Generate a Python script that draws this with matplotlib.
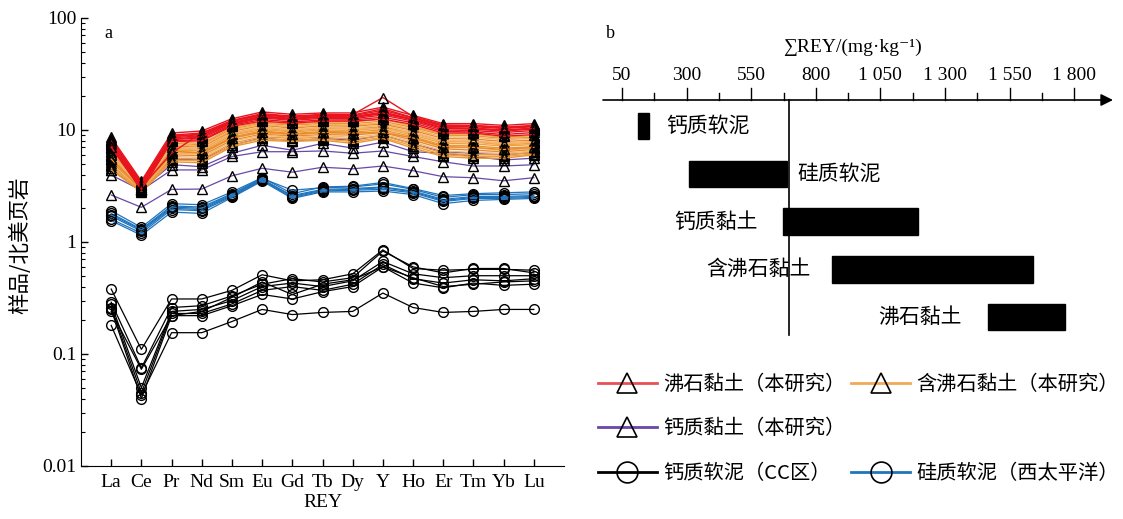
import matplotlib
matplotlib.use("Agg")
import matplotlib.pyplot as plt
from matplotlib.lines import Line2D
import numpy as np

plt.rcParams['font.family'] = ['Liberation Serif', 'Noto Sans CJK SC', 'DejaVu Sans']
CJK = ['Noto Sans CJK SC', 'DejaVu Sans']

# ---------------- data ----------------
elements = ["La", "Ce", "Pr", "Nd", "Sm", "Eu", "Gd", "Tb", "Dy", "Y", "Ho", "Er", "Tm", "Yb", "Lu"]

zeolite_clay = [
    [8.6, 3.5, 9.4, 9.8, 12.6, 14.5, 13.8, 14.2, 14.2, 16.0, 13.5, 11.4, 11.4, 11.0, 11.4],
    [8.3, 3.4, 9.0, 9.4, 12.2, 14.0, 13.3, 13.8, 13.7, 19.5, 13.2, 11.1, 11.0, 10.6, 11.0],
    [8.0, 3.3, 8.7, 9.1, 11.9, 13.6, 13.0, 13.5, 13.4, 15.0, 12.8, 10.8, 10.7, 10.3, 10.7],
    [7.8, 3.2, 8.5, 8.9, 11.6, 13.3, 12.7, 13.2, 13.1, 14.5, 12.5, 10.5, 10.4, 10.0, 10.4],
    [7.5, 3.1, 6.2, 9.5, 11.4, 13.0, 12.5, 13.0, 12.9, 14.0, 12.3, 10.3, 10.2, 9.8, 10.2],
    [7.3, 3.0, 8.2, 8.5, 11.2, 12.8, 12.2, 12.7, 12.6, 13.6, 12.0, 10.0, 9.9, 9.5, 9.9],
    [7.1, 2.9, 8.0, 8.2, 11.0, 12.4, 11.8, 12.3, 12.3, 13.0, 11.6, 9.7, 9.6, 9.1, 9.5],
    [8.1, 3.3, 8.8, 9.2, 12.0, 13.8, 13.1, 13.6, 13.6, 15.5, 12.9, 10.9, 10.9, 10.5, 10.8],
    [7.6, 3.1, 8.3, 8.7, 11.5, 13.2, 12.6, 13.1, 13.0, 14.2, 12.4, 10.4, 10.3, 9.9, 10.3],
    [7.0, 2.95, 7.9, 8.0, 10.8, 12.0, 11.5, 12.0, 12.0, 12.5, 11.2, 9.4, 9.4, 8.8, 9.1],
]

zeolite_bearing_clay = [
    [6.9, 3.3, 7.9, 7.6, 10.5, 11.8, 11.3, 11.8, 11.8, 12.5, 10.8, 9.2, 9.2, 8.6, 8.9],
    [6.7, 3.2, 7.6, 7.4, 10.2, 11.5, 11.0, 11.5, 11.4, 12.0, 10.5, 9.0, 8.9, 8.4, 8.6],
    [6.5, 3.2, 7.4, 7.2, 10.0, 11.3, 10.7, 11.2, 11.1, 11.6, 10.2, 8.7, 8.6, 8.2, 8.4],
    [6.3, 3.1, 7.2, 7.0, 9.7, 11.0, 10.4, 10.9, 10.8, 11.3, 9.9, 8.4, 8.3, 7.9, 8.1],
    [6.1, 3.1, 7.0, 6.9, 9.4, 10.7, 10.1, 10.6, 10.5, 11.0, 9.6, 8.1, 8.0, 7.7, 7.9],
    [5.9, 3.0, 6.8, 6.7, 9.2, 10.4, 9.8, 10.3, 10.2, 10.7, 9.3, 7.9, 7.8, 7.4, 7.6],
    [5.8, 3.0, 6.6, 6.5, 9.0, 10.1, 9.6, 10.0, 9.9, 10.4, 9.0, 7.6, 7.5, 7.2, 7.4],
    [5.6, 3.0, 6.4, 6.3, 8.7, 9.8, 9.3, 9.7, 9.6, 10.0, 8.7, 7.3, 7.2, 6.9, 7.1],
    [5.4, 2.95, 6.2, 6.1, 8.4, 9.5, 9.0, 9.4, 9.3, 9.8, 8.4, 7.0, 6.9, 6.6, 6.9],
    [5.2, 2.9, 6.0, 5.9, 8.1, 9.2, 8.8, 9.1, 9.0, 9.5, 8.1, 6.8, 6.6, 6.4, 6.7],
    [5.0, 2.9, 5.8, 5.7, 7.9, 9.0, 8.6, 8.9, 8.6, 9.2, 7.8, 6.5, 6.3, 6.2, 6.5],
    [4.8, 2.85, 5.6, 5.5, 7.6, 8.7, 8.4, 8.6, 8.3, 8.9, 7.5, 6.2, 6.0, 6.0, 6.3],
    [4.6, 2.85, 5.4, 5.3, 7.3, 8.4, 8.1, 8.3, 7.9, 8.6, 7.2, 6.0, 5.8, 5.8, 6.1],
    [4.4, 2.8, 5.2, 5.1, 7.1, 8.1, 7.9, 8.1, 7.6, 8.4, 6.9, 5.8, 5.6, 5.6, 6.0],
    [6.0, 3.0, 7.1, 6.6, 9.3, 10.5, 10.0, 10.5, 10.3, 10.2, 9.4, 7.8, 7.9, 7.5, 7.8],
    [5.5, 2.95, 6.5, 6.2, 8.5, 9.6, 9.2, 9.5, 9.4, 9.5, 8.5, 7.1, 7.0, 6.7, 7.0],
]

calcareous_clay = [
    [2.63, 2.04, 2.95, 2.97, 3.9, 4.55, 4.2, 4.65, 4.5, 4.77, 4.33, 3.83, 3.75, 3.52, 3.75],
    [3.96, 2.9, 4.4, 4.4, 5.8, 6.4, 6.4, 6.5, 6.2, 6.5, 5.8, 5.2, 4.77, 4.77, 4.9],
    [4.4, 2.95, 4.9, 4.7, 6.2, 7.3, 6.6, 7.6, 6.9, 7.8, 6.4, 6.2, 5.8, 5.4, 5.6],
    [4.9, 3.0, 5.5, 5.4, 7.3, 8.5, 8.0, 8.4, 8.1, 9.0, 7.5, 6.4, 6.2, 6.0, 6.3],
]

calcareous_ooze_cc = [
    [0.38, 0.11, 0.31, 0.31, 0.37, 0.51, 0.45, 0.46, 0.52, 0.85, 0.58, 0.56, 0.57, 0.57, 0.56],
    [0.29, 0.075, 0.26, 0.27, 0.33, 0.42, 0.47, 0.44, 0.48, 0.83, 0.60, 0.53, 0.58, 0.58, 0.53],
    [0.28, 0.05, 0.24, 0.25, 0.30, 0.40, 0.43, 0.40, 0.45, 0.67, 0.52, 0.48, 0.50, 0.50, 0.50],
    [0.26, 0.045, 0.23, 0.23, 0.28, 0.37, 0.40, 0.37, 0.42, 0.63, 0.47, 0.43, 0.46, 0.45, 0.47],
    [0.25, 0.04, 0.22, 0.22, 0.27, 0.34, 0.31, 0.36, 0.40, 0.60, 0.43, 0.39, 0.43, 0.41, 0.42],
    [0.24, 0.073, 0.22, 0.24, 0.32, 0.44, 0.34, 0.42, 0.46, 0.60, 0.48, 0.40, 0.42, 0.44, 0.45],
    [0.18, 0.043, 0.155, 0.155, 0.195, 0.25, 0.225, 0.235, 0.24, 0.35, 0.26, 0.235, 0.24, 0.25, 0.25],
]

siliceous_ooze_wp = [
    [1.9, 1.35, 2.2, 2.15, 2.8, 3.75, 2.7, 3.1, 3.15, 3.4, 3.0, 2.6, 2.7, 2.75, 2.8],
    [1.8, 1.3, 2.1, 2.05, 2.7, 3.7, 2.9, 3.05, 3.1, 3.3, 2.95, 2.5, 2.65, 2.65, 2.7],
    [1.7, 1.25, 2.0, 1.95, 2.6, 3.6, 2.6, 2.95, 3.0, 3.1, 2.85, 2.4, 2.55, 2.55, 2.6],
    [1.6, 1.2, 1.95, 1.9, 2.55, 3.55, 2.5, 2.85, 2.9, 2.95, 2.75, 2.3, 2.45, 2.45, 2.5],
    [1.55, 1.15, 1.85, 1.8, 2.5, 3.5, 2.45, 2.8, 2.8, 2.85, 2.65, 2.2, 2.35, 2.4, 2.45],
    [1.75, 1.28, 2.05, 2.0, 2.65, 3.65, 2.55, 2.9, 2.95, 3.05, 2.8, 2.35, 2.5, 2.5, 2.55],
]

sediment_types = ["钙质软泥", "硅质软泥", "钙质黏土", "含沸石黏土", "沸石黏土"]
rey_min = [112, 309, 673, 863, 1466]
rey_max = [154, 689, 1196, 1640, 1764]
rey_ref = 695
axis_ticks = [50, 300, 550, 800, 1050, 1300, 1550, 1800]
axis_tick_labels = ["50", "300", "550", "800", "1 050", "1 300", "1 550", "1 800"]

# ---------------- figure ----------------
W, H = 1123, 519
fig = plt.figure(figsize=(W / 100, H / 100), dpi=100)

def fx(px):
    return px / W

def fy(py):
    return 1 - py / H

# panel a
ax = fig.add_axes([fx(81), fy(466), fx(564) - fx(81), fy(18) - fy(466)])
x = np.arange(len(elements))

RED = '#e8141e'
PURPLE = '#6848a8'
BLUE = '#1f74bd'
mk_kw = dict(markerfacecolor='none', markeredgecolor='black', markeredgewidth=1.0)

for row in siliceous_ooze_wp:
    ax.plot(x, row, color=BLUE, lw=0.9, marker='o', ms=7, **mk_kw, zorder=2)
for row in calcareous_ooze_cc:
    ax.plot(x, row, color='black', lw=0.9, marker='o', ms=7, **mk_kw, zorder=2)
for row in calcareous_clay:
    ax.plot(x, row, color=PURPLE, lw=0.9, marker='^', ms=6.5, **mk_kw, zorder=3)
orange_shades = ['#f0a040', '#eb9530', '#f5b066', '#e88a2a', '#f3b878', '#ee9a3a']
for i, row in enumerate(zeolite_bearing_clay):
    ax.plot(x, row, color=orange_shades[i % len(orange_shades)], lw=1.0, marker='^', ms=6.5, **mk_kw, zorder=4)
for row in zeolite_clay:
    ax.plot(x, row, color=RED, lw=1.0, marker='^', ms=6.5, **mk_kw, zorder=5)

ax.set_yscale('log')
ax.set_ylim(0.01, 100)
ax.set_xlim(-1, 15)
ax.set_xticks(x)
ax.set_xticklabels(elements, fontsize=14)
ax.set_yticks([0.01, 0.1, 1, 10, 100])
ax.set_yticklabels(["0.01", "0.1", "1", "10", "100"], fontsize=14)
ax.tick_params(axis='both', which='major', direction='in', length=5, width=1)
ax.tick_params(axis='y', which='minor', direction='in', length=3, width=0.8)
ax.tick_params(axis='x', pad=6)
for s in ['top', 'right']:
    ax.spines[s].set_visible(False)
ax.set_xlabel("REY", fontsize=14, labelpad=2)
fig.text(fx(20), fy(245), "样品/北美页岩", rotation=90, ha='center', va='center',
         fontsize=15.5, family=CJK)
fig.text(fx(104), fy(33), "a", fontsize=13, va='center', ha='left')

# panel b
axb = fig.add_axes([fx(590), fy(345), fx(1123) - fx(590), fy(30) - fy(345)])
PX = 0.2584  # px per unit value
def vx(px):
    return 50 + (px - 622) / PX
axb.set_xlim(vx(590), vx(1123))
rows = np.arange(len(sediment_types))
axb.set_ylim((345 - 126) / 47.8, (30 - 126) / 47.8)
axb.axis('off')

axis_y = (100 - 126) / 47.8
axb.annotate('', xy=(vx(1113), axis_y), xytext=(vx(603), axis_y),
             arrowprops=dict(arrowstyle='-|>', color='black', lw=1.2,
                             mutation_scale=18, shrinkA=0, shrinkB=0))
for t, lab in zip(axis_ticks, axis_tick_labels):
    axb.plot([t, t], [axis_y, axis_y - 0.25], color='black', lw=1.0)
    axb.text(t, axis_y - 0.52, lab, ha='center', va='center', fontsize=14)
for t in axis_ticks:
    mt = t + 125
    if mt < 1900:
        axb.plot([mt, mt], [axis_y, axis_y - 0.15], color='black', lw=1.0)
axb.text(vx(853), (47 - 126) / 47.8, "∑REY/(mg·kg⁻¹)", ha='center', va='center', fontsize=14)

axb.plot([rey_ref, rey_ref], [axis_y, (335 - 126) / 47.8], color='black', lw=1.2)

axb.barh(rows, np.array(rey_max) - np.array(rey_min), left=rey_min, height=0.555,
         color='black', edgecolor='black')
label_side = ['right', 'right', 'left', 'left', 'left']
label_gap_px = [17, 10, 25, 22, 26]
for r, name, lo, hi, side, g in zip(rows, sediment_types, rey_min, rey_max, label_side, label_gap_px):
    if side == 'right':
        axb.text(hi + g / PX, r, name, ha='left', va='center', fontsize=15, family=CJK)
    else:
        axb.text(lo - g / PX, r, name, ha='right', va='center', fontsize=15, family=CJK)
fig.text(fx(606), fy(33), "b", fontsize=13, va='center', ha='left')

# legend
def h(color, marker):
    return Line2D([], [], color=color, lw=2, marker=marker, ms=15,
                  markerfacecolor='none', markeredgecolor='black', markeredgewidth=1.2)
handles = [h('#e85058', '^'), h(PURPLE, '^'), h('black', 'o'),
           h('#f0aa55', '^'), Line2D([], [], color='none'), h(BLUE, 'o')]
labels = ["沸石黏土（本研究）", "钙质黏土（本研究）", "钙质软泥（CC区）",
          "含沸石黏土（本研究）", "", "硅质软泥（西太平洋）"]
leg = fig.legend(handles, labels, ncol=2, loc='upper left',
                 bbox_to_anchor=(fx(598), fy(374)), frameon=False,
                 prop={'family': CJK, 'size': 14.6}, handlelength=2.9,
                 columnspacing=0.3, handletextpad=0.3, labelspacing=1.15,
                 borderaxespad=0, borderpad=0)

fig.savefig("out.png", dpi=100)
